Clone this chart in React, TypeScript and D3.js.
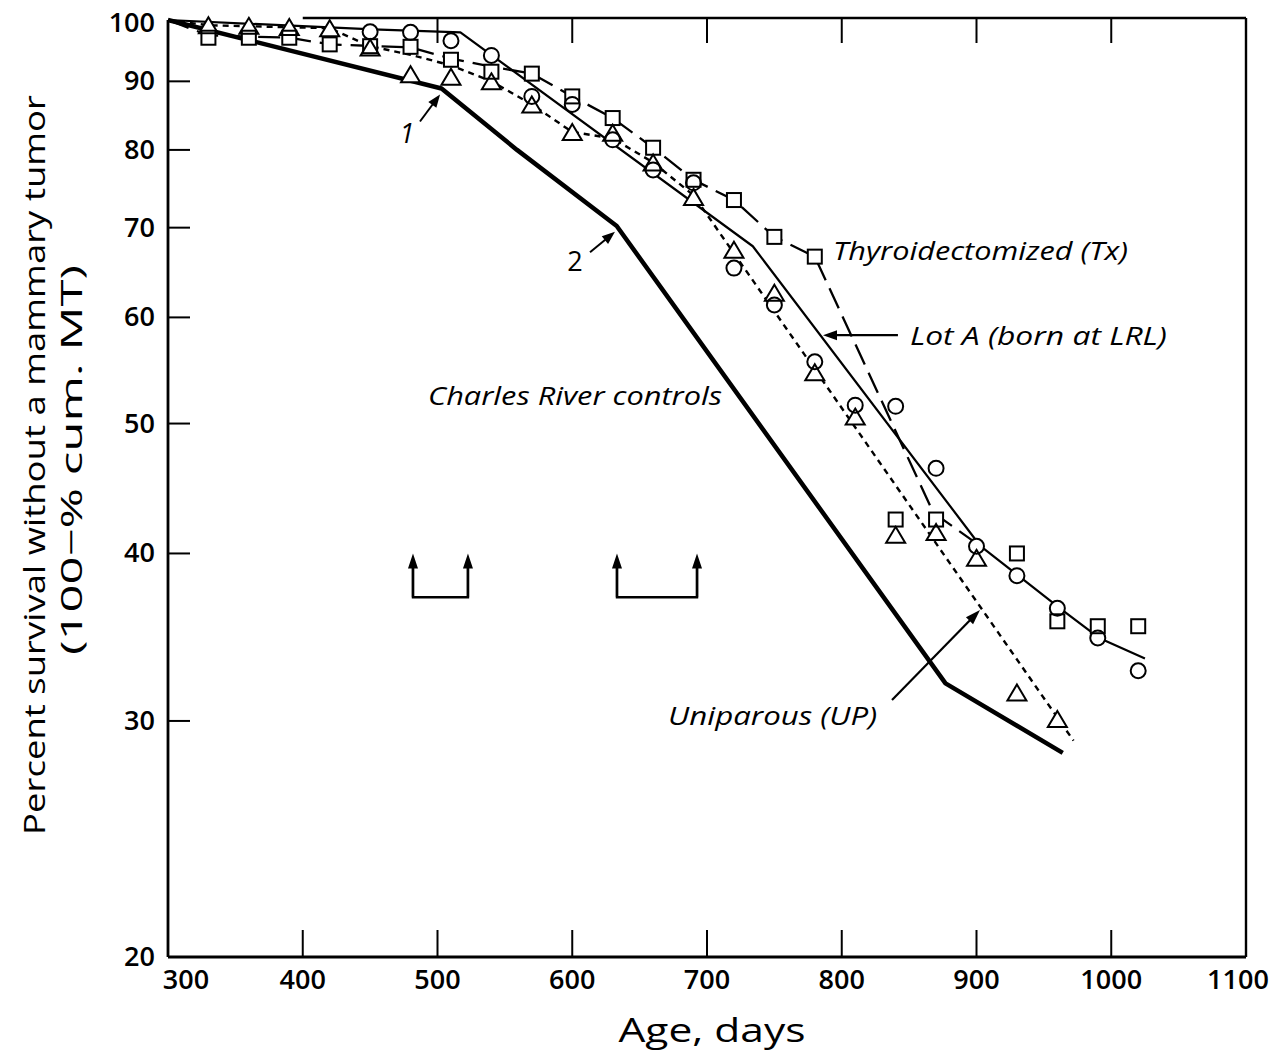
import React from "react";
import * as d3 from "d3";

const W = 1272;
const H = 1054;

// Axis ticks
const xTickValues = [300, 400, 500, 600, 700, 800, 900, 1000, 1100];
const xInnerTicks = [400, 500, 600, 700, 800, 900, 1000];
const xTopTicks = [500, 600, 700, 800, 900, 1000];
const yLabelValues = [20, 30, 40, 50, 60, 70, 80, 90, 100];
const yInnerTicks = [30, 40, 50, 60, 70, 80, 90];

// Marker series (age in days, % survival)
const lotADays = [450, 480, 510, 540, 570, 600, 630, 660, 690, 720, 750, 780, 810, 840, 870, 900, 930, 960, 990, 1020];
const lotAValues = [98.0, 97.9, 96.5, 94.1, 87.7, 86.5, 81.4, 77.3, 75.6, 65.3, 61.3, 55.6, 51.6, 51.5, 46.3, 40.5, 38.5, 36.4, 34.6, 32.7];

const txDays = [330, 360, 390, 420, 450, 480, 510, 540, 570, 600, 630, 660, 690, 720, 750, 780, 840, 870, 930, 960, 990, 1020];
const txValues = [97.0, 97.0, 97.0, 95.9, 95.6, 95.5, 93.4, 91.5, 91.2, 87.7, 84.5, 80.3, 76.0, 73.4, 68.9, 66.6, 42.4, 42.4, 40.0, 35.6, 35.3, 35.3];

const upDays = [330, 360, 390, 420, 450, 480, 510, 540, 570, 600, 630, 660, 690, 720, 750, 780, 810, 840, 870, 900, 930, 960];
const upValues = [99.1, 99.0, 98.8, 98.6, 95.4, 91.1, 90.7, 90.0, 86.5, 82.5, 82.4, 78.3, 73.8, 67.4, 62.6, 54.6, 50.6, 41.3, 41.5, 39.7, 31.5, 30.1];

// Curves
const crCurveDays = [300, 503, 559, 633, 877, 964];
const crCurveValues = [100, 88.9, 80.0, 70.2, 32.0, 28.4];

const lotACurveDays = [300, 452, 517, 734, 903, 931, 962, 991, 1025];
const lotACurveValues = [100, 98.4, 97.9, 67.8, 40.5, 38.5, 36.4, 34.6, 33.4];

const txCurveDays = [300, 330, 390, 420, 480, 510, 540, 570, 600, 630, 660, 690, 720, 750, 780, 868, 903];
const txCurveValues = [100, 97.4, 97.0, 95.9, 95.4, 93.6, 92.3, 91.2, 87.7, 84.5, 80.3, 76.0, 73.4, 68.9, 66.6, 42.9, 40.5];

const upCurveDays = [300, 330, 420, 450, 480, 510, 540, 570, 600, 630, 660, 690, 972];
const upCurveValues = [100, 99.1, 98.6, 95.6, 94.2, 92.5, 90.0, 86.5, 82.5, 81.6, 78.3, 74.0, 29.0];

// Annotations (data coordinates)
const bracketPairs = [[481.8, 522.6], [633.2, 692.6]];
const bracketTip = 40.0;
const bracketBase = 37.1;

const FONT = "'Open Sans', 'DejaVu Sans', sans-serif";

const x = d3.scaleLinear().domain([300, 1100]).range([168, 1246]);
const y = d3.scaleLog().domain([20, 100]).range([957, 20]);

const zip = (a: number[], b: number[]) => a.map((v, i) => [v, b[i]] as [number, number]);

const lineGen = d3
  .line<[number, number]>()
  .x((d) => x(d[0]))
  .y((d) => y(d[1]));

function Arrow({ from, to, head = 14, half = 5, width = 2 }: { from: [number, number]; to: [number, number]; head?: number; half?: number; width?: number }) {
  const x1 = x(from[0]);
  const y1 = y(from[1]);
  const x2 = x(to[0]);
  const y2 = y(to[1]);
  const dx = x2 - x1;
  const dy = y2 - y1;
  const len = Math.sqrt(dx * dx + dy * dy);
  const ux = dx / len;
  const uy = dy / len;
  const bx = x2 - ux * head;
  const by = y2 - uy * head;
  const px = -uy;
  const py = ux;
  const pts = `${x2},${y2} ${bx + px * half},${by + py * half} ${bx - px * half},${by - py * half}`;
  return (
    <g>
      <line x1={x1} y1={y1} x2={bx + ux * 2} y2={by + uy * 2} stroke="#000" strokeWidth={width} />
      <polygon points={pts} fill="#000" />
    </g>
  );
}

function triPath(cx: number, cy: number) {
  const w = 19;
  const h = 16;
  return `M${cx},${cy - h / 2}L${cx + w / 2},${cy + h / 2}L${cx - w / 2},${cy + h / 2}Z`;
}

export default function App() {
  const crPath = lineGen(zip(crCurveDays, crCurveValues)) || "";
  const lotAPath = lineGen(zip(lotACurveDays, lotACurveValues)) || "";
  const txPath = lineGen(zip(txCurveDays, txCurveValues)) || "";
  const upPath = lineGen(zip(upCurveDays, upCurveValues)) || "";

  const circles = zip(lotADays, lotAValues);
  const squares = zip(txDays, txValues);
  const triangles = zip(upDays, upValues);
  const sq = 14;

  return (
    <svg
      width={W}
      height={H}
      viewBox={`0 0 ${W} ${H}`}
      style={{ position: "absolute", left: 0, top: 0, background: "#fff" }}
      fontFamily={FONT}
    >
      <rect x={0} y={0} width={W} height={H} fill="#fff" />

      {/* frame */}
      <line x1={x(300)} y1={y(100)} x2={x(300)} y2={y(20)} stroke="#000" strokeWidth={2.8} />
      <line x1={x(300)} y1={y(20)} x2={x(1100)} y2={y(20)} stroke="#000" strokeWidth={2.8} />
      <line x1={x(1100)} y1={18} x2={x(1100)} y2={y(20)} stroke="#000" strokeWidth={2.4} />
      <line x1={x(400)} y1={18} x2={x(1100)} y2={18} stroke="#000" strokeWidth={2.4} />

      {xInnerTicks.map((t) => (
        <line key={"xb" + t} x1={x(t)} x2={x(t)} y1={y(20)} y2={y(20) - 27} stroke="#000" strokeWidth={2} />
      ))}
      {xTopTicks.map((t) => (
        <line key={"xt" + t} x1={x(t)} x2={x(t)} y1={18} y2={43} stroke="#000" strokeWidth={2} />
      ))}
      {yInnerTicks.map((t) => (
        <line key={"yl" + t} x1={x(300)} x2={x(300) + 22} y1={y(t)} y2={y(t)} stroke="#000" strokeWidth={2} />
      ))}

      {xTickValues.map((t) => (
        <text
          key={"xl" + t}
          x={t === 300 ? x(t) + 18 : t === 1100 ? x(t) - 8 : x(t)}
          y={989}
          textAnchor="middle"
          fontSize={27}
          fontWeight={600}
          fill="#000"
        >
          {t}
        </text>
      ))}
      {yLabelValues.map((t) => (
        <text key={"yt" + t} x={155} y={y(t) + (t === 100 ? 12 : 9)} textAnchor="end" fontSize={27} fontWeight={600} fill="#000">
          {t}
        </text>
      ))}

      {/* axis titles */}
      <text x={712} y={1042} textAnchor="middle" fontSize={32} fontWeight={500} textLength={187} lengthAdjust="spacingAndGlyphs" fill="#000">
        Age, days
      </text>
      <text
        transform="translate(45,465) rotate(-90)"
        textAnchor="middle"
        fontSize={30}
        fontWeight={500}
        textLength={740}
        lengthAdjust="spacingAndGlyphs"
        fill="#000"
      >
        Percent survival without a mammary tumor
      </text>
      <text
        transform="translate(82,460) rotate(-90)"
        textAnchor="middle"
        fontSize={30}
        fontWeight={500}
        textLength={390}
        lengthAdjust="spacingAndGlyphs"
        fill="#000"
      >
        (100−% cum. MT)
      </text>

      {/* curves */}
      <path d={crPath} fill="none" stroke="#000" strokeWidth={4.5} strokeLinejoin="round" />
      <path d={lotAPath} fill="none" stroke="#000" strokeWidth={2.2} strokeLinejoin="round" />
      <path d={txPath} fill="none" stroke="#000" strokeWidth={2.3} strokeDasharray="22,9" />
      <path d={upPath} fill="none" stroke="#000" strokeWidth={2.4} strokeDasharray="6,5" />

      {/* marker fills */}
      {squares.map((d, i) => (
        <rect key={"sf" + i} x={x(d[0]) - sq / 2} y={y(d[1]) - sq / 2} width={sq} height={sq} fill="#fff" />
      ))}
      {triangles.map((d, i) => (
        <path key={"tf" + i} d={triPath(x(d[0]), y(d[1]))} fill="#fff" />
      ))}
      {circles.map((d, i) => (
        <circle key={"cf" + i} cx={x(d[0])} cy={y(d[1])} r={7.5} fill="#fff" />
      ))}
      {/* marker outlines */}
      {squares.map((d, i) => (
        <rect key={"so" + i} x={x(d[0]) - sq / 2} y={y(d[1]) - sq / 2} width={sq} height={sq} fill="none" stroke="#000" strokeWidth={2} />
      ))}
      {triangles.map((d, i) => (
        <path key={"to" + i} d={triPath(x(d[0]), y(d[1]))} fill="none" stroke="#000" strokeWidth={2} strokeLinejoin="miter" />
      ))}
      {circles.map((d, i) => (
        <circle key={"co" + i} cx={x(d[0])} cy={y(d[1])} r={7.5} fill="none" stroke="#000" strokeWidth={2} />
      ))}

      {/* labels */}
      <text x={x(493.0)} y={y(51.6)} fontSize={25} fontStyle="italic" textLength={294} lengthAdjust="spacingAndGlyphs" fill="#000">
        Charles River controls
      </text>
      <text x={x(671.1)} y={y(29.8)} fontSize={25} fontStyle="italic" textLength={209} lengthAdjust="spacingAndGlyphs" fill="#000">
        Uniparous (UP)
      </text>
      <text x={x(793.5)} y={y(66.2)} fontSize={25} fontStyle="italic" textLength={295} lengthAdjust="spacingAndGlyphs" fill="#000">
        Thyroidectomized (Tx)
      </text>
      <text x={x(850.6)} y={y(57.2)} fontSize={25} fontStyle="italic" textLength={257} lengthAdjust="spacingAndGlyphs" fill="#000">
        Lot A (born at LRL)
      </text>
      <text x={x(477.4)} y={y(82.4) + 10} textAnchor="middle" fontSize={27} fontStyle="italic" fill="#000">
        1
      </text>
      <text x={x(602.0)} y={y(66.1) + 10} textAnchor="middle" fontSize={27} fill="#000">
        2
      </text>

      {/* arrows */}
      <Arrow from={[487.0, 84.0]} to={[501.9, 88.0]} head={13} half={5} width={2} />
      <Arrow from={[613.2, 67.1]} to={[631.7, 69.5]} head={13} half={5} width={2} />
      <Arrow from={[841.7, 58.2]} to={[786.1, 58.2]} head={14} half={5} width={2.2} />
      <Arrow from={[837.3, 31.1]} to={[902.6, 36.3]} head={15} half={5} width={2.2} />

      {/* brackets */}
      {bracketPairs.map((p, i) => (
        <g key={"br" + i}>
          <path
            d={`M${x(p[0])},${y(bracketTip) + 10}V${y(bracketBase)}H${x(p[1])}V${y(bracketTip) + 10}`}
            fill="none"
            stroke="#000"
            strokeWidth={2.4}
          />
          <Arrow from={[p[0], bracketBase]} to={[p[0], bracketTip]} head={15} half={5} width={2.4} />
          <Arrow from={[p[1], bracketBase]} to={[p[1], bracketTip]} head={15} half={5} width={2.4} />
        </g>
      ))}
    </svg>
  );
}
